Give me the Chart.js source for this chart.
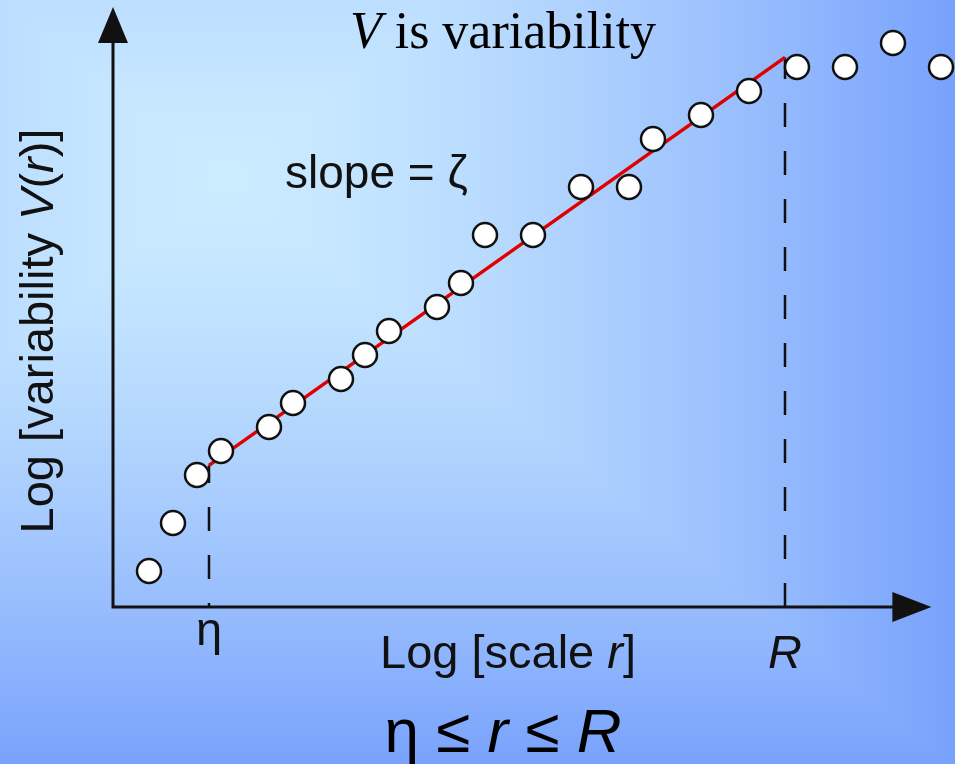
<!DOCTYPE html>
<html lang="en">
<head>
    <meta charset="UTF-8">
    <title>V is variability</title>
    <script src="https://cdn.jsdelivr.net/npm/chart.js@4.4.1/dist/chart.umd.min.js"></script>
    <style>
        body {
            margin: 0;
            padding: 0;
            background-color: #9cc0fc;
        }
        #wrap {
            width: 955px;
            height: 764px;
        }
    </style>
</head>
<body>
    <div id="wrap"><canvas id="chart" width="955" height="764"></canvas></div>

    <script>
        // log scale r (x) and log variability V(r) (y), arbitrary units
        const logScale = [1.5, 2.5, 3.5, 4.5, 6.5, 7.5, 9.5, 10.5, 11.5, 13.5, 14.5, 15.5, 17.5, 19.5, 21.5, 22.5, 24.5, 26.5, 28.5, 30.5, 32.5, 34.5];
        const logVariability = [1.5, 3.5, 5.5, 6.5, 7.5, 8.5, 9.5, 10.5, 11.5, 12.5, 13.5, 15.5, 15.5, 17.5, 17.5, 19.5, 20.5, 21.5, 22.5, 22.5, 23.5, 22.5];

        // fitted straight line (slope = zeta) between eta and R
        const fitX = [4, 28];
        const fitY = [5.9, 22.9];

        // marked scales on the x axis
        const tickValues = [4, 28];
        const tickLabels = ['η', 'R'];

        const SANS = '"Liberation Sans", Arial, sans-serif';
        const SERIF = '"Liberation Serif", "Times New Roman", serif';

        // rectangular slide gradient, light spot up-left, darker towards right and bottom
        let bgImage = null;
        const slideBackground = {
            id: 'slideBackground',
            beforeDraw(chart) {
                const { ctx, width, height } = chart;
                if (!bgImage) {
                    bgImage = ctx.createImageData(width, height);
                    const c0 = [203, 235, 255];
                    const c1 = [120, 161, 252];
                    const cx = 225, cy = 178;
                    for (let y = 0; y < height; y++) {
                        for (let x = 0; x < width; x++) {
                            let t = Math.max(Math.abs(x - cx) / 730, Math.abs(y - cy) / 590);
                            t = Math.pow(Math.min(t, 1), 1.45);
                            const k = (y * width + x) * 4;
                            bgImage.data[k] = c0[0] + (c1[0] - c0[0]) * t;
                            bgImage.data[k + 1] = c0[1] + (c1[1] - c0[1]) * t;
                            bgImage.data[k + 2] = c0[2] + (c1[2] - c0[2]) * t;
                            bgImage.data[k + 3] = 255;
                        }
                    }
                }
                ctx.putImageData(bgImage, 0, 0);
            }
        };

        // axes with arrow heads
        const arrowAxes = {
            id: 'arrowAxes',
            beforeDatasetsDraw(chart) {
                const { ctx, scales: { x, y } } = chart;
                const x0 = x.getPixelForValue(0);
                const y0 = y.getPixelForValue(0);
                const xTip = x.getPixelForValue(34.1);
                const yTip = y.getPixelForValue(25);
                ctx.save();
                ctx.strokeStyle = '#111';
                ctx.fillStyle = '#111';
                ctx.lineWidth = 3;
                ctx.beginPath();
                ctx.moveTo(x0, yTip + 34);
                ctx.lineTo(x0, y0);
                ctx.lineTo(xTip - 38, y0);
                ctx.stroke();
                // y arrow
                ctx.beginPath();
                ctx.moveTo(x0, yTip);
                ctx.lineTo(x0 + 15, yTip + 36);
                ctx.lineTo(x0 - 15, yTip + 36);
                ctx.closePath();
                ctx.fill();
                // x arrow
                ctx.beginPath();
                ctx.moveTo(xTip, y0);
                ctx.lineTo(xTip - 39, y0 - 15);
                ctx.lineTo(xTip - 39, y0 + 15);
                ctx.closePath();
                ctx.fill();
                ctx.restore();
            }
        };

        function drawRich(ctx, parts, x, y, size, family, align) {
            const widths = parts.map(p => {
                ctx.font = (p[1] ? 'italic ' : '') + size + 'px ' + family;
                return ctx.measureText(p[0]).width;
            });
            const total = widths.reduce((a, b) => a + b, 0);
            let cx = align === 'center' ? x - total / 2 : x;
            ctx.textAlign = 'left';
            ctx.textBaseline = 'alphabetic';
            parts.forEach((p, i) => {
                ctx.font = (p[1] ? 'italic ' : '') + size + 'px ' + family;
                ctx.fillText(p[0], cx, y);
                cx += widths[i];
            });
        }

        // titles, axis labels and the eta / R marks
        const labels = {
            id: 'labels',
            afterDraw(chart) {
                const { ctx, scales: { x } } = chart;
                ctx.save();
                ctx.fillStyle = '#000';
                drawRich(ctx, [['V', true], [' is variability', false]], 503, 48, 52, SERIF, 'center');

                ctx.fillStyle = '#111';
                drawRich(ctx, [['slope = ζ', false]], 285, 188, 46, SANS, 'left');
                drawRich(ctx, [['Log [scale ', false], ['r', true], [']', false]], 508, 668, 47, SANS, 'center');

                tickValues.forEach((v, i) => {
                    const italic = tickLabels[i] === 'R';
                    drawRich(ctx, [[tickLabels[i], italic]], x.getPixelForValue(v), italic ? 668 : 645, 47, SANS, 'center');
                });

                ctx.save();
                ctx.translate(53, 331);
                ctx.rotate(-Math.PI / 2);
                drawRich(ctx, [['Log [variability ', false], ['V', true], ['(', false], ['r', true], [')]', false]], 0, 0, 47, SANS, 'center');
                ctx.restore();

                ctx.fillStyle = '#000';
                drawRich(ctx, [['η ≤ ', false], ['r', true], [' ≤ ', false], ['R', true]], 503, 752, 62, SANS, 'center');
                ctx.restore();
            }
        };

        const ctxChart = document.getElementById('chart').getContext('2d');

        new Chart(ctxChart, {
            type: 'scatter',
            data: {
                datasets: [
                    {
                        label: 'Measured',
                        data: logScale.map((v, i) => ({ x: v, y: logVariability[i] })),
                        pointRadius: 12,
                        pointBackgroundColor: '#ffffff',
                        pointBorderColor: '#111',
                        pointBorderWidth: 2.5,
                        clip: false,
                        order: 0
                    },
                    {
                        type: 'line',
                        label: 'Fit',
                        data: fitX.map((v, i) => ({ x: v, y: fitY[i] })),
                        borderColor: '#e00000',
                        borderWidth: 3.5,
                        pointRadius: 0,
                        clip: false,
                        order: 1
                    },
                    {
                        type: 'line',
                        label: 'eta',
                        data: [{ x: fitX[0], y: 0 }, { x: fitX[0], y: fitY[0] }],
                        borderColor: '#111',
                        borderWidth: 2.5,
                        borderDash: [24, 24],
                        borderDashOffset: 20,
                        pointRadius: 0,
                        clip: false,
                        order: 2
                    },
                    {
                        type: 'line',
                        label: 'R',
                        data: [{ x: fitX[1], y: 0 }, { x: fitX[1], y: fitY[1] }],
                        borderColor: '#111',
                        borderWidth: 2.5,
                        borderDash: [24, 24],
                        pointRadius: 0,
                        clip: false,
                        order: 2
                    }
                ]
            },
            options: {
                responsive: false,
                animation: false,
                layout: {
                    autoPadding: false,
                    padding: { left: 113, right: 2, top: 7, bottom: 157 }
                },
                scales: {
                    x: { type: 'linear', min: 0, max: 35, display: false },
                    y: { type: 'linear', min: 0, max: 25, display: false }
                },
                plugins: {
                    legend: { display: false },
                    tooltip: { enabled: false }
                }
            },
            plugins: [slideBackground, arrowAxes, labels]
        });
    </script>
</body>
</html>
